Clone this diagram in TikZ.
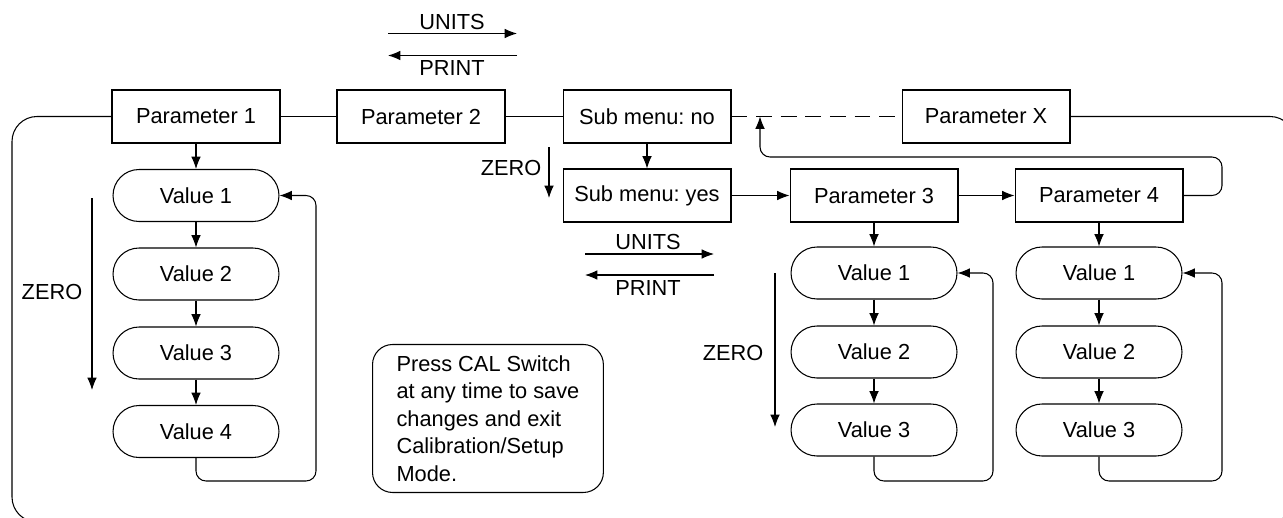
\documentclass[tikz,border=0pt]{standalone}
\usepackage{fontspec}
\setmainfont{Liberation Sans}
\usetikzlibrary{arrows.meta}
\tikzset{
  parbox/.style={draw,minimum width=3.36cm,minimum height=1.06cm,inner sep=0pt},
  valbox/.style={draw,rounded corners=0.52cm,minimum width=3.32cm,minimum height=1.04cm,inner sep=0pt},
  notebox/.style={draw,rounded corners=0.4cm,align=left,inner xsep=0.48cm,minimum width=4.56cm,minimum height=2.96cm},
  link/.style={-{Latex[length=7pt,width=5.5pt]}},
  back/.style={-{Latex[length=7pt,width=5.5pt]},rounded corners=0.2cm},
}
\frenchspacing
\begin{document}
\begin{tikzpicture}[x=0.02cm,y=-0.02cm,line width=0.6pt,font=\fontsize{12.4}{15.6}\selectfont]
\def\rowA{116.5}
\def\rowB{195.5}
\def\loopy{481}
\useasboundingbox (0,0) rectangle (1283,517);
% main row
\node[parbox] (p1) at (196,\rowA) {Parameter 1};
\node[parbox] (p2) at (421,\rowA) {Parameter 2};
\node[parbox] (sno) at (647,\rowA) {Sub menu: no};
\node[parbox] (px) at (986,\rowA) {Parameter X};
\draw (p1) -- (p2) (p2) -- (sno);
\draw[dashed,dash pattern=on 9pt off 5pt] (sno) -- (px);
\begin{scope}
\clip (0,0) rectangle (1283,517);
\draw[rounded corners=0.5cm] (p1.west) -- (12,\rowA) -- (12,522) -- (1295,522) -- (1295,\rowA) -- (px.east);
\end{scope}
% UNITS / PRINT at top
\coordinate (ta) at (388,33.5); \coordinate (tb) at (517,33.5);
\coordinate (tc) at (517,55.5); \coordinate (td) at (388,55.5);
\draw[link] (ta) -- (tb);
\draw[link] (tc) -- (td);
\node (tu) at (452,22) {UNITS};
\node (tp) at (452,68) {PRINT};
% left column
\node[valbox] (a1) at (196,\rowB) {Value 1};
\node[valbox] (a2) at (196,274) {Value 2};
\node[valbox] (a3) at (196,353) {Value 3};
\node[valbox] (a4) at (196,431.5) {Value 4};
\draw[link] (p1) -- (a1);
\draw[link] (a1) -- (a2);
\draw[link] (a2) -- (a3);
\draw[link] (a3) -- (a4);
\draw[back] (a4.south) -- (196,\loopy) -- (316,\loopy) -- (316,\rowB) -- (a1.east);
\coordinate (za) at (92,198); \coordinate (zb) at (92,390);
\draw[link] (za) -- (zb);
\node (z1) at (52,292) {ZERO};
% sub menu
\node[parbox] (syes) at (647,\rowB) {Sub menu: yes};
\node[parbox] (p3) at (874,\rowB) {Parameter 3};
\node[parbox] (p4) at (1099,\rowB) {Parameter 4};
\draw[link] (sno) -- (syes);
\draw[link] (syes) -- (p3);
\draw[link] (p3) -- (p4);
\coordinate (ret) at (760,\rowA);
\draw[back] (p4.east) -- (1222,\rowB) -- (1222,157) -- (760,157) -- (ret);
\coordinate (zc) at (549,147); \coordinate (zd) at (549,198);
\draw[link] (zc) -- (zd);
\node (z2) at (511,168) {ZERO};
\coordinate (sa) at (585,254); \coordinate (sb) at (714,254);
\coordinate (sc) at (714,275); \coordinate (sd) at (585,275);
\draw[link] (sa) -- (sb);
\draw[link] (sc) -- (sd);
\node (su) at (648,242) {UNITS};
\node (sp) at (648,288) {PRINT};
% parameter 3
\node[valbox] (b1) at (874,273) {Value 1};
\node[valbox] (b2) at (874,352) {Value 2};
\node[valbox] (b3) at (874,430) {Value 3};
\draw[link] (p3) -- (b1);
\draw[link] (b1) -- (b2);
\draw[link] (b2) -- (b3);
\draw[back] (b3.south) -- (874,\loopy) -- (993,\loopy) -- (993,273) -- (b1.east);
\coordinate (ze) at (775,273); \coordinate (zf) at (775,427);
\draw[link] (ze) -- (zf);
\node (z3) at (733,353) {ZERO};
% parameter 4
\node[valbox] (c1) at (1099,273) {Value 1};
\node[valbox] (c2) at (1099,352) {Value 2};
\node[valbox] (c3) at (1099,430) {Value 3};
\draw[link] (p4) -- (c1);
\draw[link] (c1) -- (c2);
\draw[link] (c2) -- (c3);
\draw[back] (c3.south) -- (1099,\loopy) -- (1222,\loopy) -- (1222,273) -- (c1.east);
% note
\node[notebox,anchor=south west] (note) at (372,493) {Press CAL Switch\\at any time to save\\changes and exit\\Calibration/Setup\\Mode.};
\end{tikzpicture}
\end{document}
